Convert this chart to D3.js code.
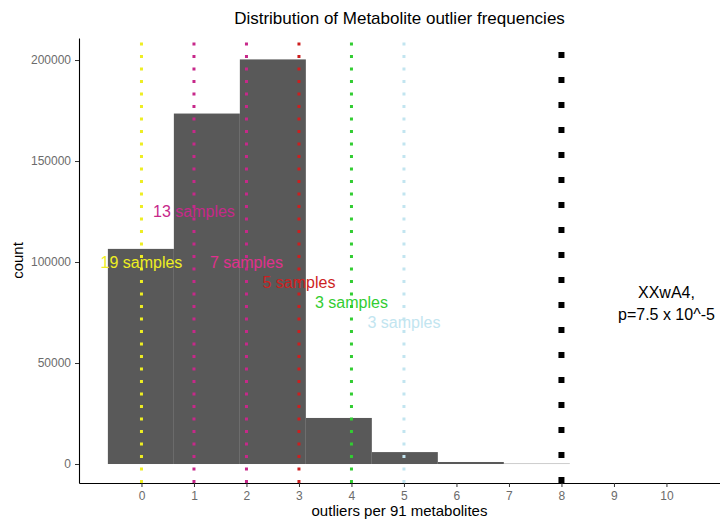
<!DOCTYPE html>
<html>
<head>
<meta charset="utf-8">
<script src="https://cdn.jsdelivr.net/npm/d3@7"></script>
<style>
    body { margin: 0; background: #fff; }
    text { font-family: "Liberation Sans", Arial, sans-serif; }
</style>
</head>
<body>
<svg id="chart" width="720" height="523"></svg>
<script>
    // histogram bins (outliers per metabolite), width ~1.257
    var binStarts = [-0.64, 0.617, 1.874, 3.131, 4.388, 5.645, 6.902]
    var binWidth = 1.257
    var binCounts = [106500, 173500, 200300, 22800, 5900, 1000, 150]

    // sample markers
    var markerX = [0, 1, 2, 3, 4, 5]
    var markerColors = ['#eeee22', '#c7288a', '#c7288a', '#cd1f1f', '#32cd32', '#c2e5f0']
    var labelX = [1, 0, 2, 3, 4, 5]
    var labelY = [125000, 100000, 100000, 90000, 80000, 70000]
    var labelText = ['13 samples', '19 samples', '7 samples', '5 samples', '3 samples', '3 samples']
    var labelColors = ['#c7288a', '#eeee22', '#e0308e', '#cd1f1f', '#32cd32', '#c2e5f0']

    var hitX = 8
    var noteX = 10
    var noteY = 80500
    var noteLines = ['XXwA4,', 'p=7.5 x 10^-5']

    var xTicks = [0, 1, 2, 3, 4, 5, 6, 7, 8, 9, 10]
    var yTicks = [0, 50000, 100000, 150000, 200000]

    var pLeft = 79, pRight = 720, pTop = 38, pBottom = 483
    var svg = d3.select('#chart')

    var x = d3.scaleLinear().domain([-1.19, 11.02]).range([pLeft, pRight])
    var y = d3.scaleLinear().domain([-9400, 210900]).range([pBottom, pTop])

    // bars
    svg.append('g').selectAll('rect')
        .data(binCounts)
        .enter().append('rect')
        .attr('x', function(d, i) { return x(binStarts[i]) })
        .attr('width', function(d, i) { return x(binStarts[i] + binWidth) - x(binStarts[i]) })
        .attr('y', function(d) { return y(d) })
        .attr('height', function(d) { return y(0) - y(d) })
        .attr('fill', '#595959')

    // dotted vlines, drawn upward from the axis like R does
    svg.append('g').selectAll('line')
        .data(markerX)
        .enter().append('line')
        .attr('x1', function(d) { return x(d) })
        .attr('x2', function(d) { return x(d) })
        .attr('y1', pBottom)
        .attr('y2', pTop)
        .attr('stroke', function(d, i) { return markerColors[i] })
        .attr('stroke-width', 3)
        .attr('stroke-dasharray', '3 9.5')

    svg.append('line')
        .attr('x1', x(hitX)).attr('x2', x(hitX))
        .attr('y1', pBottom).attr('y2', pTop)
        .attr('stroke', '#000')
        .attr('stroke-width', 6)
        .attr('stroke-dasharray', '6 19')

    // sample labels
    svg.append('g').selectAll('text')
        .data(labelText)
        .enter().append('text')
        .attr('x', function(d, i) { return x(labelX[i]) })
        .attr('y', function(d, i) { return y(labelY[i]) })
        .attr('dy', '0.35em')
        .attr('text-anchor', 'middle')
        .attr('font-size', 16)
        .attr('fill', function(d, i) { return labelColors[i] })
        .text(function(d) { return d })

    var note = svg.append('text')
        .attr('x', x(noteX))
        .attr('y', y(noteY))
        .attr('text-anchor', 'middle')
        .attr('font-size', 16)
        .attr('fill', '#000')
    note.selectAll('tspan')
        .data(noteLines)
        .enter().append('tspan')
        .attr('x', x(noteX))
        .attr('dy', function(d, i) { return i == 0 ? '-0.2em' : '1.35em' })
        .text(function(d) { return d })

    // axes
    var xAxis = svg.append('g')
        .attr('transform', 'translate(0,' + pBottom + ')')
        .call(d3.axisBottom(x).tickValues(xTicks).tickSizeInner(4).tickSizeOuter(0).tickPadding(4).tickFormat(d3.format('d')))
    var yAxis = svg.append('g')
        .attr('transform', 'translate(' + pLeft + ',0)')
        .call(d3.axisLeft(y).tickValues(yTicks).tickSizeInner(4).tickSizeOuter(0).tickPadding(4).tickFormat(d3.format('d')))

    ;[xAxis, yAxis].forEach(function(a) {
        a.select('.domain').attr('stroke', '#000').attr('stroke-width', 1.1)
        a.selectAll('.tick line').attr('stroke', '#333')
        a.selectAll('.tick text')
            .attr('fill', '#6b6b6b')
            .attr('font-size', 12)
            .attr('font-family', '"Liberation Sans", Arial, sans-serif')
    })

    // titles
    svg.append('text')
        .attr('x', (pLeft + pRight) / 2)
        .attr('y', 24)
        .attr('text-anchor', 'middle')
        .attr('font-size', 17)
        .text('Distribution of Metabolite outlier frequencies')

    svg.append('text')
        .attr('x', (pLeft + pRight) / 2)
        .attr('y', 516)
        .attr('text-anchor', 'middle')
        .attr('font-size', 15)
        .text('outliers per 91 metabolites')

    svg.append('text')
        .attr('transform', 'translate(23,' + (pTop + pBottom) / 2 + ') rotate(-90)')
        .attr('text-anchor', 'middle')
        .attr('font-size', 15)
        .text('count')
</script>
</body>
</html>
